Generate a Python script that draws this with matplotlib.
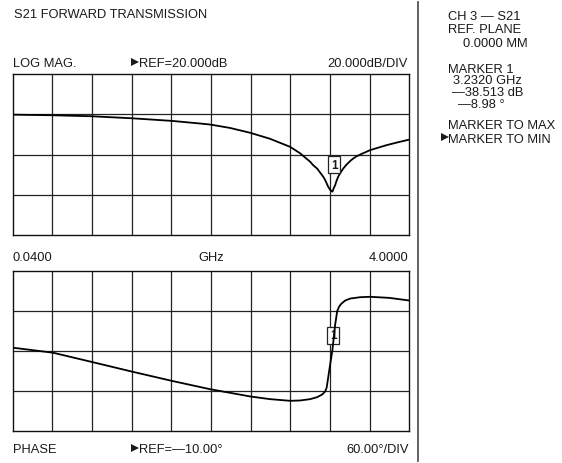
import matplotlib
matplotlib.use('Agg')
import matplotlib.pyplot as plt

plt.rcParams['font.family'] = ['Liberation Sans', 'DejaVu Sans']

# readings off the analyzer screen
freq_mag = [0.04, 0.44, 0.83, 1.23, 1.63, 1.91, 2.01, 2.21, 2.41, 2.61, 2.81, 2.91,
            3.01, 3.04, 3.08, 3.11, 3.14, 3.16, 3.19, 3.21, 3.232, 3.245, 3.26, 3.27,
            3.29, 3.32, 3.34, 3.37, 3.41, 3.44, 3.47, 3.52, 3.61, 3.77, 3.88, 4.00]
mag_db = [-0.2, -0.5, -1.0, -2.0, -3.3, -4.6, -5.1, -6.8, -9.2, -12.2, -16.2, -19.4,
          -23.6, -25.3, -27.0, -29.0, -31.0, -32.7, -36.0, -37.6, -38.5, -36.8, -35.2, -33.6,
          -31.0, -28.5, -27.0, -25.2, -23.2, -22.0, -21.0, -19.8, -17.8, -15.4, -14.0, -12.6]

freq_ph = [0.04, 0.44, 0.83, 1.23, 1.63, 2.01, 2.41, 2.61, 2.81, 2.91, 3.01, 3.08,
           3.13, 3.16, 3.175, 3.19, 3.21, 3.232, 3.26, 3.28, 3.30, 3.32, 3.36, 3.41,
           3.51, 3.61, 3.80, 4.00]
phase_deg = [-5.0, -12.5, -26.5, -41.0, -55.0, -67.5, -78.4, -82.5, -85.0, -84.5, -82.5, -79.5,
             -75.5, -71.0, -65.0, -50.0, -30.0, -9.0, 30.0, 50.0, 57.0, 61.0, 66.0, 69.0,
             71.0, 71.6, 70.0, 66.0]

f_start, f_stop = 0.04, 4.0
mag_ref, mag_div = 20.0, 20.0      # ref at top line
ph_ref, ph_div = -10.0, 60.0       # ref at center line
marker_f, marker_db, marker_ph = 3.232, -38.513, -8.98

W, H = 562, 464
fig = plt.figure(figsize=(W / 100, H / 100), dpi=100)
fig.patch.set_facecolor('white')
TC = '#1a1a1a'
FS = 9.3


def px(x, y):
    return x / W, 1 - y / H


def txt(x, y, s, ha='left', size=FS):
    fx, fy = px(x, y)
    fig.text(fx, fy, s, ha=ha, va='baseline', fontsize=size, color=TC)


def arrow(x, y):
    # little softkey pointer, drawn as a marker instead of a glyph
    fx, fy = px(x, y)
    fig.add_artist(plt.Line2D([fx], [fy], marker='>', markersize=5.2, color=TC,
                              markeredgewidth=0, linestyle='none',
                              transform=fig.transFigure))


def grid_axes(rect):
    ax = fig.add_axes(rect)
    ax.set_xlim(f_start, f_stop)
    step = (f_stop - f_start) / 10
    for i in range(1, 10):
        ax.axvline(f_start + i * step, color='#222222', lw=0.9, zorder=1)
    ax.set_xticks([])
    ax.set_yticks([])
    for sp in ax.spines.values():
        sp.set_linewidth(1.0)
        sp.set_color('#111111')
    return ax


box = dict(boxstyle='square,pad=0.22', fc='white', ec='#222222', lw=0.9)

# magnitude panel
l, r = 12.7, 409.3
ax1 = grid_axes([l / W, 1 - 236 / H, (r - l) / W, (236 - 75) / H])
ax1.set_ylim(mag_ref - 4 * mag_div, mag_ref)
for k in range(1, 4):
    ax1.axhline(mag_ref - k * mag_div, color='#222222', lw=0.9, zorder=1)
ax1.plot(freq_mag, mag_db, color='black', lw=1.3, zorder=3)
ax1.annotate('1', xy=(marker_f, marker_db), xytext=(2, 27), textcoords='offset pixels',
             ha='center', va='center', fontsize=8.5, fontweight='bold', color=TC,
             bbox=box, zorder=4)

# phase panel
ax2 = grid_axes([l / W, 1 - 431.7 / H, (r - l) / W, (431.7 - 272.3) / H])
ax2.set_ylim(ph_ref - 2 * ph_div, ph_ref + 2 * ph_div)
for k in (-1, 0, 1):
    ax2.axhline(ph_ref + k * ph_div, color='#222222', lw=0.9, zorder=1)
ax2.plot(freq_ph, phase_deg, color='black', lw=1.3, zorder=3)
ax2.annotate('1', xy=(marker_f, marker_ph), xytext=(1, 15), textcoords='offset pixels',
             ha='center', va='center', fontsize=8.5, fontweight='bold', color=TC,
             bbox=box, zorder=2)

# labels around the panels
txt(14, 18.3, 'S21 FORWARD TRANSMISSION')
txt(13, 66.7, 'LOG MAG.')
arrow(135.3, 62.5)
txt(139.5, 66.7, 'REF=%.3fdB' % mag_ref)
txt(407.5, 66.7, '%.3fdB/DIV' % mag_div, ha='right')

txt(13, 260.7, '%.4f' % f_start)
txt(211, 260.7, 'GHz', ha='center')
txt(408, 260.7, '%.4f' % f_stop, ha='right')

txt(13, 453.3, 'PHASE')
arrow(135.3, 448.5)
txt(139.5, 453.3, 'REF=—%.2f°' % abs(ph_ref))
txt(409, 453.3, '%.2f°/DIV' % ph_div, ha='right')

# softkey / readout column
fig.add_artist(plt.Line2D([417.7 / W, 417.7 / W], [1 - 3 / H, 1 - 462 / H],
                          color='#555555', lw=1.3, transform=fig.transFigure))
txt(448.3, 20, 'CH 3 — S21')
txt(448.3, 32.7, 'REF. PLANE')
txt(463.3, 46.7, '0.0000 MM')
txt(448.3, 72.7, 'MARKER 1')
txt(453.3, 84.0, '%.4f GHz' % marker_f)
txt(452.3, 96.0, '—%.3f dB' % abs(marker_db))
txt(457.7, 107.8, '—%.2f °' % abs(marker_ph))
txt(448.3, 129.3, 'MARKER TO MAX')
arrow(445.0, 137.5)
txt(448.3, 142.7, 'MARKER TO MIN')

fig.savefig('out.png', dpi=100, facecolor='white')
